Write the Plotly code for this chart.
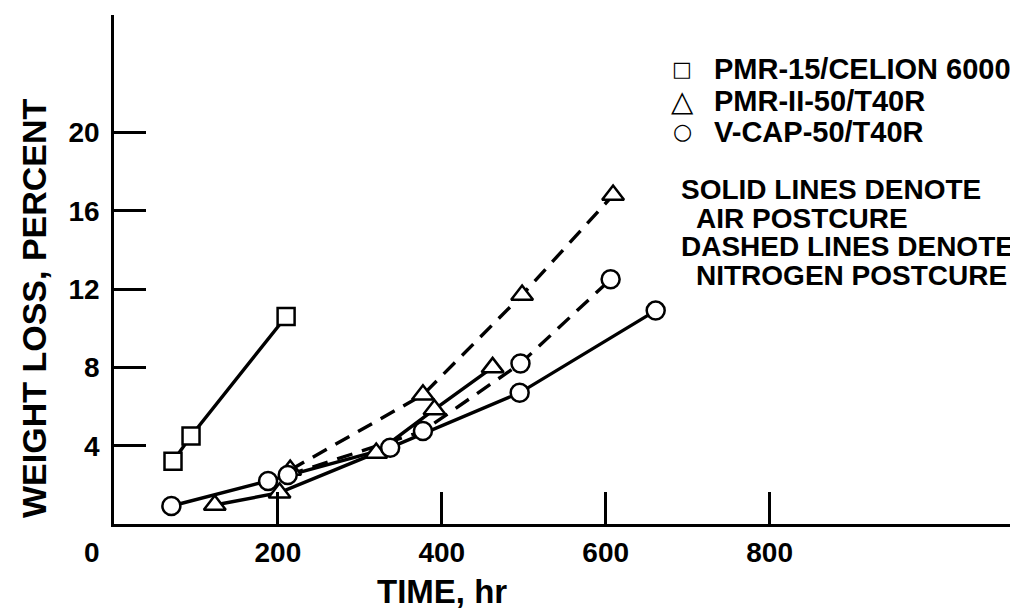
import plotly.graph_objects as go

# ---------------- data ----------------
pmr15_t = [72, 94, 210]
pmr15_w = [3.2, 4.5, 10.6]

pmr2_air_t = [123, 202, 320, 391, 462]
pmr2_air_w = [0.97, 1.6, 3.63, 5.85, 8.0]
pmr2_n2_t = [215, 377, 498, 609]
pmr2_n2_w = [2.76, 6.6, 11.7, 16.8]

vcap_air_t = [70, 188, 337, 495, 661]
vcap_air_w = [0.92, 2.2, 3.9, 6.7, 10.9]
vcap_n2_t = [212, 377, 496, 606]
vcap_n2_w = [2.5, 4.75, 8.2, 12.5]

x_tick_vals = [200, 400, 600, 800]
x_tick_text = ["200", "400", "600", "800"]
y_tick_vals = [4, 8, 12, 16, 20]
y_tick_text = ["4", "8", "12", "16", "20"]
origin_label = "0"

legend_names = ["PMR-15/CELION 6000", "PMR-II-50/T40R", "V-CAP-50/T40R"]
legend_glyphs = ["\u25a1", "\u25b3", "\u25cb"]
note_lines = ["SOLID LINES DENOTE", "AIR POSTCURE",
              "DASHED LINES DENOTE", "NITROGEN POSTCURE"]
x_title = "TIME, hr"
y_title = "WEIGHT LOSS, PERCENT"

# ---------------- layout geometry (pixels) ----------------
W, H = 1018, 612
ML, MR, MT, MB = 106, 13, 7, 96
PW, PH = W - ML - MR, H - MT - MB
FONT = "Liberation Sans, Arial, Helvetica, sans-serif"
SYMFONT = "DejaVu Sans, sans-serif"

LEGEND_ROWS_PX = [61, 93, 124]
LEGEND_SYM_X_PX = 674
LEGEND_SYM_SIZES = [21, 29, 22]
LEGEND_TEXT_X_PX = 704
NOTE_ROWS_PX = [181, 210, 238, 267]
NOTE_X_PX = [671, 686, 671, 686]


def px_x(px):
    return (px - ML) / PW


def px_y(py):
    return (H - MB - py) / PH


BLACK = "black"
LW = 3.4
DASH = "16px,10px"

fig = go.Figure()

series = [
    (pmr15_t, pmr15_w, "solid", "square"),
    (pmr2_air_t, pmr2_air_w, "solid", "triangle-up"),
    (vcap_air_t, vcap_air_w, "solid", "circle"),
    (pmr2_n2_t, pmr2_n2_w, DASH, "triangle-up"),
    (vcap_n2_t, vcap_n2_w, DASH, "circle"),
]
msize = {"square": 17, "triangle-up": 19, "circle": 18}

# lines first
for t, w, dash, sym in series:
    fig.add_trace(go.Scatter(x=t, y=w, mode="lines",
                             line=dict(color=BLACK, width=LW, dash=dash),
                             showlegend=False, hoverinfo="skip"))
# then markers on top
for t, w, dash, sym in series:
    fig.add_trace(go.Scatter(x=t, y=w, mode="markers",
                             marker=dict(symbol=sym, size=msize[sym], color="white",
                                         line=dict(color=BLACK, width=2.5)),
                             showlegend=False, hoverinfo="skip"))

axis_common = dict(showline=True, linecolor=BLACK, linewidth=2.5, mirror=False,
                   ticks="inside", ticklen=32, tickwidth=2.5, tickcolor=BLACK,
                   showgrid=False, zeroline=False,
                   tickfont=dict(family=FONT, size=28, color=BLACK, weight="bold"))

fig.update_xaxes(range=[0, 1097], tickvals=x_tick_vals, ticktext=x_tick_text,
                 ticklabelstandoff=2, **axis_common)
fig.update_yaxes(range=[0, 26], tickvals=y_tick_vals, ticktext=y_tick_text,
                 ticklabelstandoff=6, **axis_common)

annotations = []
# origin "0"
annotations.append(dict(x=0, y=0, xref="x", yref="y", text=origin_label,
                        showarrow=False, xshift=-22, yshift=-28,
                        font=dict(family=FONT, size=28, color=BLACK, weight="bold")))
# axis titles
annotations.append(dict(x=400, y=px_y(583), xref="x", yref="paper", text=x_title,
                        showarrow=False, xanchor="center", yanchor="middle",
                        font=dict(family=FONT, size=33, color=BLACK, weight="bold")))
annotations.append(dict(x=px_x(26), y=px_y(300), xref="paper", yref="paper",
                        text=y_title, textangle=-90, showarrow=False,
                        xanchor="center", yanchor="middle",
                        font=dict(family=FONT, size=34, color=BLACK, weight="bold")))
# legend (symbol glyph + label)
for name, glyph, gsize, yy in zip(legend_names, legend_glyphs, LEGEND_SYM_SIZES, LEGEND_ROWS_PX):
    annotations.append(dict(x=px_x(LEGEND_SYM_X_PX), y=px_y(yy), xref="paper", yref="paper",
                            text=glyph, showarrow=False, xanchor="center", yanchor="middle",
                            font=dict(family=SYMFONT, size=gsize, color=BLACK)))
    annotations.append(dict(x=px_x(LEGEND_TEXT_X_PX), y=px_y(yy), xref="paper", yref="paper",
                            text=name, showarrow=False, xanchor="left", yanchor="middle",
                            font=dict(family=FONT, size=29, color=BLACK, weight="bold")))
# note text
for line, yy, xx in zip(note_lines, NOTE_ROWS_PX, NOTE_X_PX):
    annotations.append(dict(x=px_x(xx), y=px_y(yy), xref="paper", yref="paper",
                            text=line, showarrow=False, xanchor="left", yanchor="middle",
                            font=dict(family=FONT, size=28, color=BLACK, weight="bold")))

fig.update_layout(
    width=W, height=H,
    margin=dict(l=ML, r=MR, t=MT, b=MB),
    paper_bgcolor="white", plot_bgcolor="white",
    annotations=annotations,
    showlegend=False,
)

fig.write_html("out.html")
